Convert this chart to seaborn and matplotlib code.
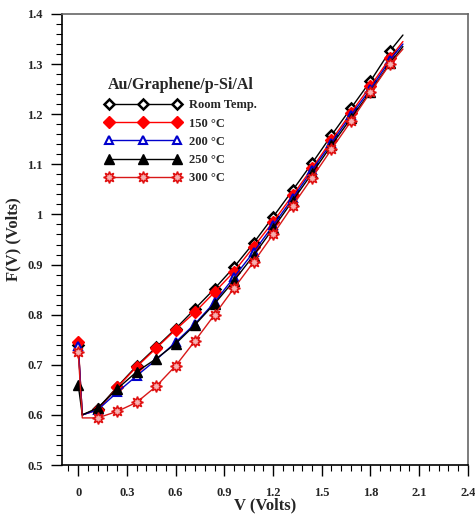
import matplotlib
matplotlib.use("Agg")
import matplotlib.pyplot as plt
from matplotlib.ticker import MultipleLocator, FixedLocator
import seaborn as sns
import pandas as pd

# ---- data ----
V = [0.0, 0.025, 0.12, 0.24, 0.36, 0.48, 0.60, 0.72, 0.84, 0.96, 1.08,
     1.20, 1.32, 1.44, 1.56, 1.68, 1.80, 1.92, 2.00]
F_room = [0.740, 0.600, 0.612, 0.656, 0.698, 0.735, 0.772, 0.812, 0.852, 0.895, 0.943,
          0.995, 1.048, 1.102, 1.158, 1.212, 1.266, 1.326, 1.358]
F_150 = [0.745, 0.600, 0.610, 0.655, 0.696, 0.733, 0.770, 0.805, 0.845, 0.886, 0.935,
         0.985, 1.038, 1.092, 1.148, 1.203, 1.256, 1.312, 1.345]
F_200 = [0.738, 0.600, 0.610, 0.645, 0.678, 0.710, 0.745, 0.782, 0.825, 0.875, 0.925,
         0.978, 1.032, 1.088, 1.143, 1.198, 1.250, 1.308, 1.340]
F_250 = [0.660, 0.600, 0.614, 0.652, 0.686, 0.712, 0.742, 0.780, 0.822, 0.868, 0.918,
         0.972, 1.027, 1.082, 1.138, 1.192, 1.245, 1.302, 1.335]
F_300 = [0.725, 0.594, 0.594, 0.607, 0.625, 0.657, 0.698, 0.748, 0.800, 0.853, 0.905,
         0.960, 1.017, 1.073, 1.130, 1.186, 1.244, 1.300, 1.330]
labels = ["Room Temp.", "150 \u00b0C", "200 \u00b0C", "250 \u00b0C", "300 \u00b0C"]
legend_title = "Au/Graphene/p-Si/Al"
x_ticks = [0, 0.3, 0.6, 0.9, 1.2, 1.5, 1.8, 2.1, 2.4]
x_ticklabels = ["0", "0.3", "0.6", "0.9", "1.2", "1.5", "1.8", "2.1", "2.4"]
y_ticks = [0.5, 0.6, 0.7, 0.8, 0.9, 1.0, 1.1, 1.2, 1.3, 1.4]
y_ticklabels = ["0.5", "0.6", "0.7", "0.8", "0.9", "1", "1.1", "1.2", "1.3", "1.4"]

series = [F_room, F_150, F_200, F_250, F_300]
styles = [
    dict(color="black", marker="D", mfc="white", mec="black", ms=5.2, mew=1.8),
    dict(color="red", marker="D", mfc="red", mec="red", ms=6.2, mew=1.0),
    dict(color="#0000cc", marker="^", mfc="white", mec="#0000cc", ms=6, mew=1.5),
    dict(color="black", marker="^", mfc="black", mec="black", ms=6.8, mew=1.0),
    dict(color="#d81818", marker=(8, 1, 0), mfc="#f6b0b0", mec="#e01010", ms=8.5, mew=1.1),
]
mark_idx = [0] + list(range(2, len(V) - 1))

sns.set_style("ticks")
plt.rcParams["font.family"] = ["Liberation Serif", "DejaVu Serif"]
plt.rcParams["font.weight"] = "bold"

fig = plt.figure(figsize=(4.75, 5.14), dpi=100)
ax = fig.add_axes([0.1305, 0.0953, 0.8545, 0.8775])

for F, lab, st in zip(series, labels, styles):
    df = pd.DataFrame({"V": V, "F": F})
    sns.lineplot(data=df, x="V", y="F", ax=ax, label=lab, color=st["color"],
                 marker=st["marker"], markerfacecolor=st["mfc"],
                 markeredgecolor=st["mec"], markersize=st["ms"],
                 markeredgewidth=st["mew"], linewidth=1.0,
                 markevery=mark_idx, sort=False, estimator=None)

ax.set_xlim(-0.1, 2.4)
ax.set_ylim(0.5, 1.4)
ax.xaxis.set_major_locator(FixedLocator(x_ticks))
ax.set_xticklabels(x_ticklabels)
ax.xaxis.set_minor_locator(MultipleLocator(0.06))
ax.yaxis.set_major_locator(FixedLocator(y_ticks))
ax.set_yticklabels(y_ticklabels)
ax.yaxis.set_minor_locator(MultipleLocator(0.02))
ax.tick_params(axis="x", which="major", direction="out", length=8, width=1.0,
               labelsize=9, pad=8, top=False, color="black")
ax.tick_params(axis="y", which="major", direction="out", length=8, width=1.0,
               labelsize=9, pad=6, right=False, color="black")
ax.tick_params(which="minor", direction="out", length=4, width=0.8,
               top=False, right=False, color="black")
for lbl in ax.get_xticklabels() + ax.get_yticklabels():
    lbl.set_fontweight("bold")
for s in ["left", "bottom"]:
    ax.spines[s].set_color("black")
    ax.spines[s].set_linewidth(1.2)
for s in ["top", "right"]:
    ax.spines[s].set_visible(True)
    ax.spines[s].set_color("#666666")
    ax.spines[s].set_linewidth(1.2)

ax.set_xlabel("V (Volts)", fontsize=12, fontweight="bold", labelpad=-1)
ax.set_ylabel("F(V) (Volts)", fontsize=12, fontweight="bold", labelpad=4)

leg = ax.legend(title=legend_title, loc="upper left", bbox_to_anchor=(0.079, 0.885),
                frameon=False, numpoints=3, handlelength=6.0, handletextpad=0.7,
                labelspacing=0.5, prop={"size": 9, "weight": "bold"},
                title_fontproperties={"size": 11.5, "weight": "bold"})
for ln in leg.get_lines():
    ln.set_markevery(None)

fig.savefig("out.png", dpi=100)
